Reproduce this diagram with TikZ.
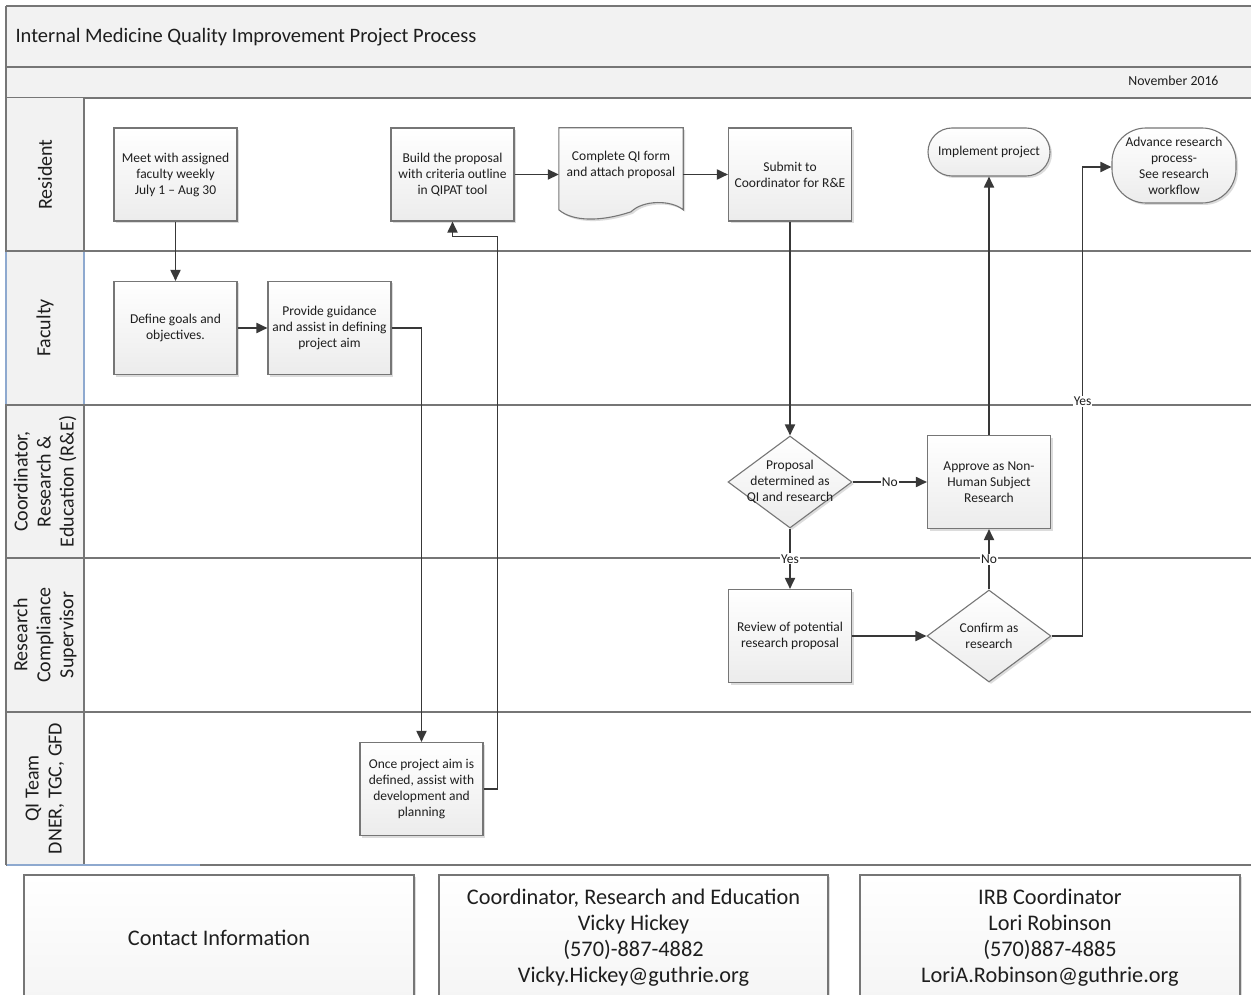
\documentclass[tikz,border=0pt]{standalone}
\usepackage{fontspec}
\setmainfont{Carlito}
\usetikzlibrary{arrows.meta,shapes.geometric,shadows,calc}
\definecolor{lanegray}{HTML}{F2F2F2}
\definecolor{linegray}{HTML}{767676}
\definecolor{arrowgray}{HTML}{383838}
\definecolor{txt}{HTML}{1E1E1E}
\definecolor{selblue}{HTML}{8EA9CF}
\begin{document}
\begin{tikzpicture}[x=1pt,y=-1pt,
  font=\fontsize{13.5}{16}\selectfont,
  boxshadow/.style={drop shadow={shadow xshift=2pt,shadow yshift=-2pt,fill=gray!45,opacity=.6}},
  procbox/.style={draw=linegray, line width=1.1pt, top color=white, bottom color=gray!15,
    boxshadow, minimum width=123pt, minimum height=93pt, align=center, inner sep=1pt, text=txt},
  termbox/.style={procbox, rounded corners=24pt, minimum width=122pt, minimum height=48pt},
  advbox/.style={procbox, rounded corners=34pt, minimum width=124pt, minimum height=75pt},
  decision/.style={diamond, draw=linegray, line width=1.1pt, top color=white, bottom color=gray!15,
    boxshadow, minimum width=124pt, minimum height=92pt, inner sep=0pt},
  inlabel/.style={align=center, text=txt, inner sep=0pt},
  docnode/.style={minimum width=124pt, minimum height=93pt, inner sep=0pt},
  lanelabel/.style={rotate=90, align=center, font=\fontsize{20}{23}\selectfont, text=txt},
  arr/.style={draw=arrowgray, line width=1.8pt, -{Triangle[length=11pt,width=10pt]}},
  conlabel/.style={fill=white, inner sep=1pt, font=\fontsize{13.5}{15}\selectfont, text=txt},
  contact/.style={draw=linegray, line width=1.1pt, top color=white, bottom color=gray!8,
    boxshadow, align=center, font=\fontsize{22.3}{26}\selectfont, text=txt, inner sep=0pt},
  laneline/.style={draw=linegray, line width=1.6pt}
]
\useasboundingbox (0,0) rectangle (1251,995);
\fill[white] (0,0) rectangle (1251,995);

% ---------- header bands ----------
\fill[lanegray] (6,6) rectangle (1251,98);
\draw[laneline] (6,6) -- (1251,6);
\draw[laneline] (6,67) -- (1251,67);
\draw[laneline] (6,98) -- (1251,98);
\node[anchor=west, font=\fontsize{20.5}{24}\selectfont, text=txt] (title) at (12,37)
  {Internal Medicine Quality Improvement Project Process};
\node[anchor=east, font=\fontsize{13.8}{16}\selectfont, text=txt] (date) at (1222,81) {November 2016};

% ---------- lanes ----------
\fill[lanegray] (6,98) rectangle (84,865);
\foreach \yy in {251,405,558,712} {\draw[laneline] (6,\yy) -- (1251,\yy);}
\draw[laneline] (6,865) -- (1251,865);
\draw[laneline] (6,6) -- (6,865);
\draw[laneline] (84,98) -- (84,865);
\draw[selblue, line width=1.4pt] (84,252) -- (84,404);
\draw[selblue, line width=1.4pt] (6,252) -- (6,404);
\draw[selblue, line width=1.4pt] (7,865) -- (200,865);

\node[lanelabel] (lres) at (45,174.5) {Resident};
\node[lanelabel] (lfac) at (45,328) {Faculty};
\node[lanelabel] (lcoord) at (45,481.5) {Coordinator,\\Research \&\\Education (R\&E)};
\node[lanelabel] (lrcs) at (45,635) {Research\\Compliance\\Supervisor};
\node[lanelabel] (lqi) at (45,788.5) {QI Team\\DNER, TGC, GFD};

% ---------- process nodes ----------
\node[procbox] (meet) at (175.5,174.5) {Meet with assigned\\faculty weekly\\July 1 -- Aug 30};
\node[procbox] (build) at (452.5,174.5) {Build the proposal\\with criteria outline\\in QIPAT tool};
\node[docnode] (complete) at (621,174.5) {};
\path[draw=linegray, line width=1.1pt, top color=white, bottom color=gray!15, boxshadow]
  (complete.north west) -- (complete.north east) -- ($(complete.north east)+(0,82)$)
  .. controls ($(complete.north east)+(-12,72)$) and ($(complete.north east)+(-40,72)$) .. ($(complete.north)+(10,84)$)
  .. controls ($(complete.north)+(-20,94)$) and ($(complete.north west)+(14,94)$) .. ($(complete.north west)+(0,82)$)
  -- cycle;
\node[inlabel] (completetext) at ($(complete.center)+(0,-10)$) {Complete QI form\\and attach proposal};
\node[procbox] (submit) at (790,174.5) {Submit to\\Coordinator for R\&E};
\node[termbox] (impl) at (989,152) {Implement project};
\node[advbox] (adv) at (1174,165.5) {Advance research\\process-\\See research\\workflow};

\node[procbox] (define) at (175.5,328) {Define goals and\\objectives.};
\node[procbox] (provide) at (329.5,328) {Provide guidance\\and assist in defining\\project aim};

\node[decision, label={[inlabel]center:Proposal\\determined as\\QI and research}] (prop) at (790,482) {};
\node[procbox] (approve) at (989,482) {Approve as Non-\\Human Subject\\Research};

\node[procbox] (review) at (790,636) {Review of potential\\research proposal};
\node[decision, label={[inlabel]center:Confirm as\\research}] (confirm) at (989,636) {};

\node[procbox] (once) at (421.5,789) {Once project aim is\\defined, assist with\\development and\\planning};

% ---------- connectors ----------
\draw[arr] (meet) -- (define);
\draw[arr] (define) -- (provide);
\draw[arr] (provide.east) -| (once.north);
\draw[arr] (once.east) -- ++(14,0) |- ([yshift=-15pt]build.south) -- (build.south);
\draw[arr] (build) -- (complete);
\draw[arr] (complete) -- (submit);
\draw[arr] (submit) -- (prop);
\draw[arr] (prop) -- node[conlabel, pos=0.5] {No} (approve);
\draw[arr] (prop) -- node[conlabel, pos=0.5] {Yes} (review);
\draw[arr] (review) -- (confirm);
\draw[arr] (confirm) -- node[conlabel, pos=0.5] {No} (approve);
\draw[arr] (confirm.east) -- ++(31,0) |- node[conlabel, pos=0.25] {Yes} ([yshift=-1.5pt]adv.west);
\draw[arr] (approve) -- (impl);

% ---------- contact boxes ----------
\node[contact, minimum width=390pt, minimum height=125pt] (c1) at (219,937.5) {Contact Information};
\node[contact, minimum width=389pt, minimum height=125pt] (c2) at (633.5,937.5)
  {Coordinator, Research and Education\\Vicky Hickey\\(570)-887-4882\\Vicky.Hickey@guthrie.org};
\node[contact, minimum width=380pt, minimum height=125pt] (c3) at (1050,937.5)
  {IRB Coordinator\\Lori Robinson\\(570)887-4885\\LoriA.Robinson@guthrie.org};
\end{tikzpicture}
\end{document}
